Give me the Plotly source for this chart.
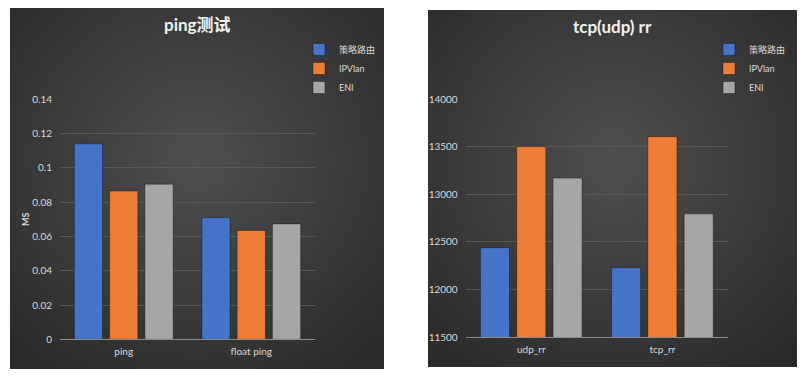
import base64
import plotly.graph_objects as go

# ---------------- data ----------------
ping_categories = ["ping", "float ping"]
ping_policy = [0.114, 0.071]
ping_ipvlan = [0.0865, 0.0635]
ping_eni = [0.0905, 0.0673]

rr_categories = ["udp_rr", "tcp_rr"]
rr_policy = [12440, 12230]
rr_ipvlan = [13500, 13605]
rr_eni = [13170, 12795]

series_names = ["策略路由", "IPVlan", "ENI"]
series_colors = ["#4674C9", "#EE7E35", "#A6A6A6"]

W, H = 806, 376
FONT = "Lato, 'Noto Sans CJK SC', sans-serif"
TXT = "#D9D9D9"

# ---------------- background panels (radial gradient) ----------------
svg = f"""<svg xmlns='http://www.w3.org/2000/svg' width='{W}' height='{H}' viewBox='0 0 {W} {H}'>
<defs>
<radialGradient id='g1' cx='50%' cy='42%' r='72%'>
<stop offset='0' stop-color='#4f4f4f'/><stop offset='1' stop-color='#2a2a2a'/>
</radialGradient>
</defs>
<rect x='0' y='0' width='{W}' height='{H}' fill='#ffffff'/>
<rect x='10' y='8' width='374' height='361' fill='url(#g1)'/>
<rect x='428' y='10' width='369' height='357' fill='url(#g1)'/>
</svg>"""
bg_src = "data:image/svg+xml;base64," + base64.b64encode(svg.encode("utf-8")).decode()

fig = go.Figure()

ping_vals = [ping_policy, ping_ipvlan, ping_eni]
rr_vals = [rr_policy, rr_ipvlan, rr_eni]

for name, color, vals in zip(series_names, series_colors, ping_vals):
    fig.add_trace(go.Bar(
        x=ping_categories, y=vals, name=name, xaxis="x", yaxis="y",
        marker=dict(color=color, line=dict(color="rgba(0,0,0,0.35)", width=1)),
        legend="legend",
    ))
for name, color, vals in zip(series_names, series_colors, rr_vals):
    fig.add_trace(go.Bar(
        x=rr_categories, y=vals, name=name, xaxis="x2", yaxis="y2",
        marker=dict(color=color, line=dict(color="rgba(0,0,0,0.35)", width=1)),
        legend="legend2",
    ))

def px_x(v):
    return v / W

def px_y(v):
    return 1 - v / H

grid = "#595959"
axis_common = dict(
    showgrid=False, showline=True, linecolor="#8C8C8C", linewidth=1,
    ticks="", tickfont=dict(family=FONT, size=10, color=TXT), ticklabelstandoff=3,
    automargin=False, fixedrange=True,
)
yaxis_common = dict(
    showgrid=True, gridcolor=grid, gridwidth=1, zeroline=False, showline=False,
    ticks="", tickfont=dict(family=FONT, size=10, color=TXT), ticklabelstandoff=7,
    automargin=False, fixedrange=True,
)
legend_common = dict(xanchor="left", yanchor="top", bgcolor="rgba(0,0,0,0)",
                     font=dict(family=FONT, size=9, color=TXT),
                     itemwidth=30, tracegroupgap=0)

fig.update_layout(
    width=W, height=H,
    margin=dict(l=0, r=0, t=0, b=0),
    paper_bgcolor="#ffffff",
    plot_bgcolor="rgba(0,0,0,0)",
    barmode="group",
    bargap=0.17,
    bargroupgap=0.2,
    font=dict(family=FONT, color=TXT),
    xaxis=dict(domain=[px_x(60), px_x(315)], anchor="y", **axis_common),
    yaxis=dict(domain=[px_y(339.3), px_y(99.3)], anchor="x", range=[0, 0.14], dtick=0.02,
               title=dict(text="<b>MS</b>", font=dict(family=FONT, size=9, color=TXT), standoff=1),
               **yaxis_common),
    xaxis2=dict(domain=[px_x(465.7), px_x(728)], anchor="y2", **axis_common),
    yaxis2=dict(domain=[px_y(337.3), px_y(99)], anchor="x2", range=[11500, 14000], dtick=500,
                tickformat="d", **yaxis_common),
    legend=dict(x=px_x(299), y=px_y(35), **legend_common),
    legend2=dict(x=px_x(709), y=px_y(35), **legend_common),
    images=[dict(source=bg_src, xref="paper", yref="paper", x=0, y=1, sizex=1, sizey=1,
                 xanchor="left", yanchor="top", sizing="stretch", layer="below")],
    annotations=[
        dict(text="<b>ping测试</b>", x=px_x(197), y=px_y(25), xref="paper", yref="paper",
             showarrow=False, xanchor="center", yanchor="middle",
             font=dict(family=FONT, size=17, color="#F2F2F2")),
        dict(text="<b>tcp(udp) rr</b>", x=px_x(612), y=px_y(26), xref="paper", yref="paper",
             showarrow=False, xanchor="center", yanchor="middle",
             font=dict(family=FONT, size=17, color="#F2F2F2")),
    ],
)

fig.write_html(
    "out.html",
    config={"displayModeBar": False},
    post_script="document.body.style.margin='0';document.body.style.padding='0';",
)
